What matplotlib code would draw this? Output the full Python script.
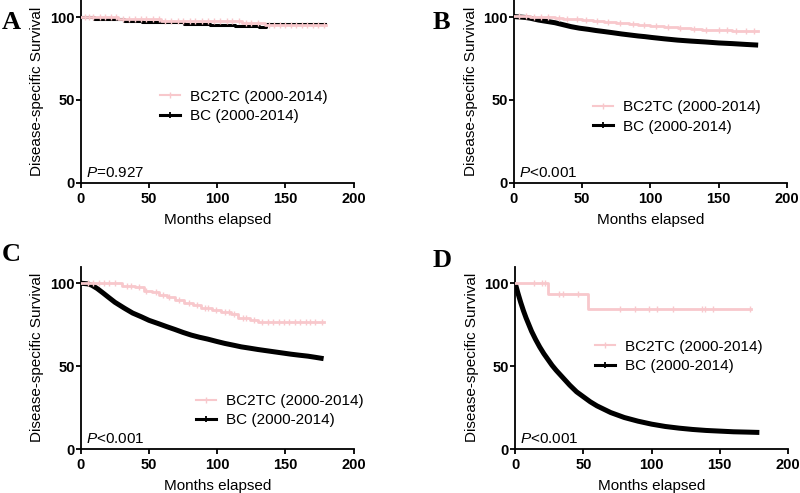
import numpy as np
import matplotlib
matplotlib.use('Agg')
import matplotlib.pyplot as plt
from matplotlib.lines import Line2D

plt.rcParams['font.family'] = ['Liberation Sans', 'DejaVu Sans']
plt.rcParams['mathtext.fontset'] = 'custom'
plt.rcParams['mathtext.it'] = 'Liberation Sans:italic'
plt.rcParams['mathtext.rm'] = 'Liberation Sans'

PINK = '#f8c8cc'
BLACK = '#000000'

panel_letters = ['A', 'B', 'C', 'D']
p_values = ['=0.927', '<0.001', '<0.001', '<0.001']
legend_labels = ['BC2TC (2000-2014)', 'BC (2000-2014)']
x_ticks = [0, 50, 100, 150, 200]
y_ticks = [0, 50, 100]

# ---- panel A ----
a_pink_t = [0, 27, 59, 118, 135, 180]
a_pink_s = [100, 99, 97.8, 96.5, 95.1, 95.1]
a_pink_cens = [3, 6, 9, 14, 18, 22, 26, 31, 35, 40, 44, 48, 53, 57, 62, 66, 71, 75, 80, 84, 89,
               93, 98, 102, 107, 111, 116, 121, 125, 130, 138, 142, 146, 150, 154, 158, 162,
               166, 170, 174, 178]
a_black_t = [0, 10, 32, 45, 76, 95, 113, 131, 136, 179]
a_black_s = [100.3, 99, 97.6, 97, 95.8, 95, 94.4, 93.8, 96, 96]

# ---- panel B ----
b_pink_t = [0, 12, 30, 36, 42, 50, 58, 66, 75, 84, 91, 100, 110, 120, 130, 138, 145, 160, 179]
b_pink_s = [100.5, 100, 99.6, 99.1, 98.6, 98.1, 97.5, 96.9, 96.4, 95.8, 95.3, 94.9, 94.2,
            93.6, 93, 92.4, 92, 91.6, 91.5]
b_pink_cens = [4, 9, 15, 20, 25, 33, 39, 46, 53, 61, 69, 78, 87, 95, 104, 113, 122, 132, 141,
               150, 156, 163, 170, 176]
b_black_t = [0, 8, 12, 18, 24, 30, 36, 42, 48, 54.5, 60, 66.7, 73, 79, 85, 91, 96, 101, 110,
             120, 130, 140, 150, 160, 170, 179]
b_black_s = [100.3, 99.8, 99.3, 98.2, 97.4, 96.6, 95.4, 94.2, 93.3, 92.6, 91.9, 91.2, 90.5,
             89.8, 89.2, 88.6, 88.2, 87.7, 86.9, 86.1, 85.5, 85, 84.4, 84, 83.5, 83.1]

# ---- panel C ----
c_pink_t = [0, 30, 40, 46, 52, 57, 63, 69, 76, 82, 88, 96, 103, 110, 115, 124, 130, 178]
c_pink_s = [100.2, 98.5, 97.6, 95.5, 94.5, 92.8, 91.5, 90, 88.2, 86.7, 85, 83.8, 82.8, 81.3,
            78.8, 77.8, 76.6, 76.6]
c_pink_cens = [5, 9, 13, 17, 21, 25, 34, 37, 43, 48, 55, 60, 65, 72, 79, 85, 91, 93, 99, 106,
               109, 112, 119, 121, 127, 133, 137, 141, 145, 149, 153, 157, 161, 165, 168, 172, 177]
c_black_t = [0, 5, 8, 12, 16, 20, 25, 32, 38, 44.5, 50, 56.6, 63, 69, 75, 81, 87, 93, 100,
             105.5, 112, 117.7, 124, 130, 136, 142, 148, 154, 160, 166.5, 172, 178]
c_black_s = [100, 99.6, 98.8, 96.8, 94.3, 91.7, 88.5, 84.9, 82, 79.7, 77.6, 75.7, 73.8, 72.1,
             70.3, 68.7, 67.4, 66.3, 64.8, 63.7, 62.6, 61.6, 60.8, 60, 59.3, 58.6, 57.9, 57.2,
             56.6, 56, 55.3, 54.5]

# ---- panel D ----
d_pink_t = [0, 24.4, 53.3, 172.8]
d_pink_s = [100, 93.2, 84.3, 84.3]
d_pink_cens = [14, 20, 22, 32, 35, 46, 77, 88, 98, 104, 116, 137, 139, 145, 172]
d_black_t = [0, 2, 4, 6, 8, 10, 12, 15, 18, 21, 24, 27, 30, 35, 40, 45, 50, 55, 60, 70, 80,
             90, 100, 110, 120, 130, 140, 150, 160, 170, 179]
d_black_s = [100, 94, 88.5, 83.5, 79, 75, 71, 66, 61.5, 57.5, 54, 50.5, 47.5, 43, 38.5, 34.5,
             31.5, 28.5, 26, 22, 19, 16.8, 15, 13.6, 12.6, 11.8, 11.2, 10.8, 10.4, 10.2, 10]

panels = [
    (a_pink_t, a_pink_s, a_pink_cens, a_black_t, a_black_s, True),
    (b_pink_t, b_pink_s, b_pink_cens, b_black_t, b_black_s, False),
    (c_pink_t, c_pink_s, c_pink_cens, c_black_t, c_black_s, False),
    (d_pink_t, d_pink_s, d_pink_cens, d_black_t, d_black_s, False),
]

ax_pos = [[0.101, 0.629, 0.341, 0.370],
          [0.6425, 0.629, 0.341, 0.370],
          [0.101, 0.0892, 0.341, 0.370],
          [0.644, 0.0892, 0.341, 0.370]]
# legend anchor (handle start x, row centre y) in axes fraction
leg_pos = [(0.289, 0.42), (0.289, 0.361), (0.424, 0.211), (0.293, 0.509)]
letter_pos = [(0.002, 0.955), (0.541, 0.955), (0.002, 0.483), (0.541, 0.472)]


def step_value(ts, ss, x):
    i = np.searchsorted(ts, x, side='right') - 1
    return np.array(ss)[np.clip(i, 0, len(ss) - 1)]


fig = plt.figure(figsize=(8, 4.93), dpi=100)

for k, (pt, ps, pc, bt, bs, black_steps) in enumerate(panels):
    ax = fig.add_axes(ax_pos[k])
    if black_steps:
        ax.plot(bt, bs, color=BLACK, lw=2.2, drawstyle='steps-post', zorder=2)
    else:
        ax.plot(bt, bs, color=BLACK, lw=3.6, solid_capstyle='butt', zorder=2)
    ax.plot(pt, ps, color=PINK, lw=2.0, drawstyle='steps-post', zorder=3)
    ax.plot(pc, step_value(pt, ps, pc), ls='none', marker='|', ms=5, mew=1.0,
            color=PINK, zorder=3)

    ax.set_xlim(0, 200)
    ax.set_ylim(0, 110)
    ax.set_xticks(x_ticks)
    ax.set_xticklabels([str(v) for v in x_ticks], fontweight='bold', fontsize=10.5)
    ax.set_yticks(y_ticks)
    ax.set_yticklabels([str(v) for v in y_ticks], fontweight='bold', fontsize=10.5)
    for s in ['top', 'right']:
        ax.spines[s].set_visible(False)
    for s in ['left', 'bottom']:
        ax.spines[s].set_linewidth(1.3)
    ax.tick_params(axis='both', direction='out', length=3.5, width=1.3)
    ax.tick_params(axis='y', pad=1)
    ax.tick_params(axis='x', pad=3)
    ax.set_xlabel('Months elapsed', fontsize=11, labelpad=5)
    ax.set_ylabel('Disease-specific Survival', fontsize=11, labelpad=4)

    ax.text(0.018, 0.055, r'$\it{P}$' + p_values[k], transform=ax.transAxes,
            fontsize=11, va='center', ha='left')

    handles = [Line2D([0], [0], color=PINK, lw=1.5, marker='|', ms=5, mew=1.0),
               Line2D([0], [0], color=BLACK, lw=2.2, marker='|', ms=5, mew=1.3)]
    ax.legend(handles, legend_labels, loc='center left', bbox_to_anchor=leg_pos[k],
              frameon=False, fontsize=11, handlelength=1.31, handletextpad=0.65,
              labelspacing=0.35, borderpad=0, borderaxespad=0, numpoints=1)

    fig.text(letter_pos[k][0], letter_pos[k][1], panel_letters[k], fontsize=19,
             fontweight='bold', family='Liberation Serif', va='center', ha='left')

plt.savefig('out.png', dpi=100)
